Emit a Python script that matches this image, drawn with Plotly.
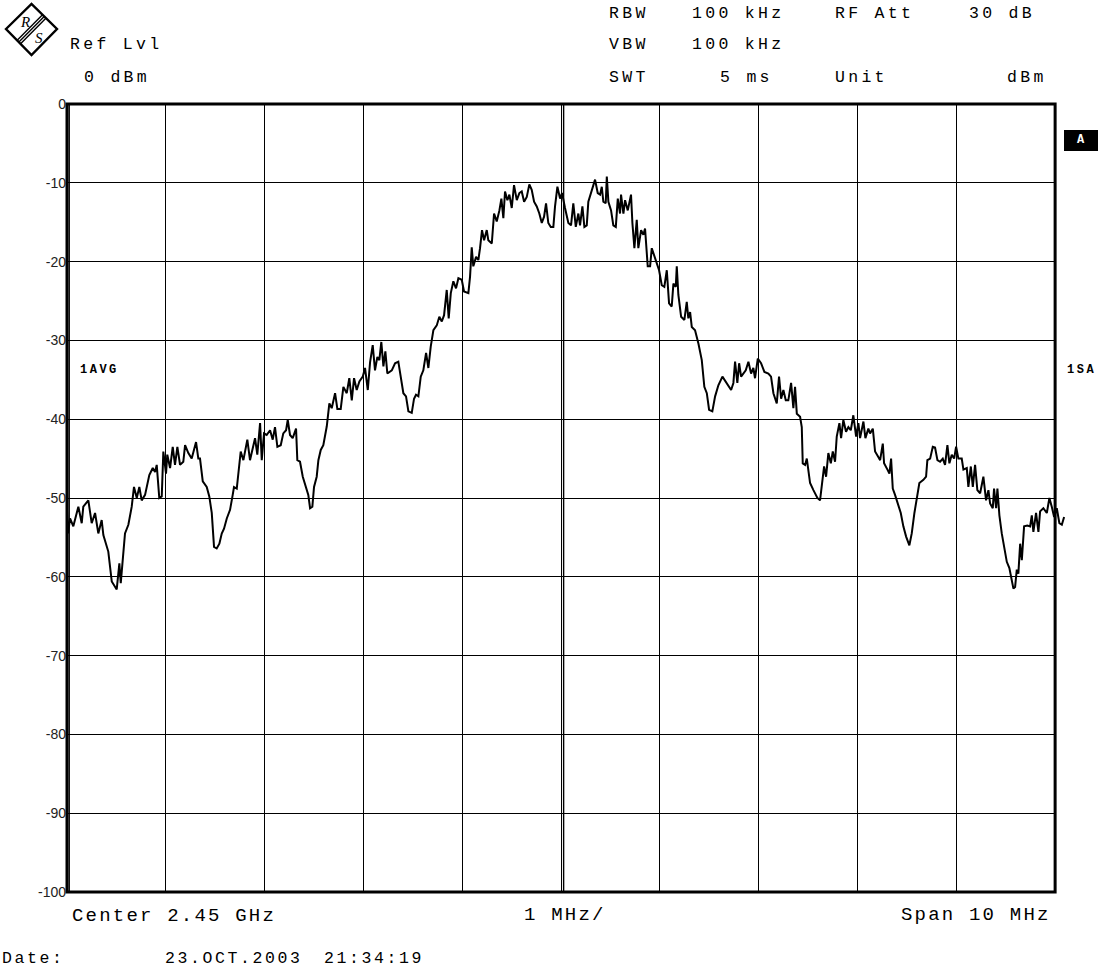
import plotly.graph_objects as go

# ---- measured sweep: frequency offset from centre (MHz) and level (dBm) ----
freq_mhz = [
    -5.000, -4.990, -4.969, -4.936, -4.885, -4.851, -4.835, -4.784, -4.750, -4.716,
    -4.683, -4.649, -4.632, -4.582, -4.547, -4.497, -4.470, -4.456, -4.413, -4.379,
    -4.345, -4.322, -4.294, -4.268, -4.244, -4.210, -4.167, -4.132, -4.109, -4.092,
    -4.066, -4.041, -4.025, -3.998, -3.985, -3.957, -3.930, -3.907, -3.883, -3.856,
    -3.823, -3.805, -3.772, -3.738, -3.694, -3.671, -3.654, -3.626, -3.586, -3.560,
    -3.535, -3.512, -3.485, -3.458, -3.434, -3.411, -3.383, -3.350, -3.323, -3.310,
    -3.282, -3.256, -3.242, -3.215, -3.198, -3.175, -3.148, -3.120, -3.097, -3.074,
    -3.046, -3.029, -3.006, -2.979, -2.945, -2.918, -2.895, -2.871, -2.837, -2.811,
    -2.783, -2.766, -2.743, -2.716, -2.682, -2.669, -2.642, -2.614, -2.581, -2.558,
    -2.540, -2.517, -2.500, -2.473, -2.456, -2.432, -2.406, -2.371, -2.345, -2.321,
    -2.287, -2.264, -2.230, -2.203, -2.169, -2.143, -2.118, -2.095, -2.068, -2.041,
    -2.007, -1.984, -1.956, -1.933, -1.906, -1.883, -1.859, -1.839, -1.819, -1.798,
    -1.778, -1.758, -1.713, -1.680, -1.647, -1.622, -1.596, -1.569, -1.545, -1.511,
    -1.488, -1.468, -1.444, -1.420, -1.394, -1.366, -1.343, -1.319, -1.292, -1.258,
    -1.232, -1.207, -1.184, -1.157, -1.137, -1.116, -1.090, -1.063, -1.039, -1.005,
    -0.982, -0.938, -0.921, -0.904, -0.888, -0.860, -0.837, -0.820, -0.800, -0.779,
    -0.752, -0.736, -0.701, -0.678, -0.651, -0.624, -0.604, -0.584, -0.567, -0.543,
    -0.523, -0.499, -0.476, -0.448, -0.422, -0.398, -0.374, -0.347, -0.321, -0.297,
    -0.273, -0.246, -0.220, -0.195, -0.172, -0.152, -0.129, -0.104, -0.078, -0.061,
    -0.037, -0.010, 0.010, 0.040, 0.074, 0.101, 0.124, 0.149, 0.175, 0.192,
    0.216, 0.236, 0.260, 0.276, 0.311, 0.344, 0.371, 0.395, 0.412, 0.428,
    0.452, 0.463, 0.479, 0.506, 0.529, 0.554, 0.574, 0.597, 0.607, 0.631,
    0.648, 0.675, 0.708, 0.722, 0.742, 0.766, 0.782, 0.810, 0.833, 0.850,
    0.877, 0.901, 0.918, 0.944, 0.969, 0.992, 1.019, 1.045, 1.070, 1.093,
    1.120, 1.137, 1.161, 1.171, 1.187, 1.215, 1.248, 1.272, 1.288, 1.306,
    1.323, 1.356, 1.390, 1.424, 1.450, 1.475, 1.498, 1.531, 1.559, 1.592,
    1.633, 1.677, 1.721, 1.744, 1.761, 1.784, 1.802, 1.822, 1.845, 1.869,
    1.896, 1.923, 1.946, 1.963, 1.991, 2.024, 2.058, 2.098, 2.125, 2.149,
    2.183, 2.206, 2.227, 2.250, 2.274, 2.300, 2.328, 2.351, 2.368, 2.386,
    2.419, 2.436, 2.446, 2.470, 2.487, 2.520, 2.554, 2.594, 2.621, 2.649,
    2.662, 2.682, 2.705, 2.730, 2.750, 2.773, 2.790, 2.817, 2.834, 2.857,
    2.884, 2.908, 2.932, 2.958, 2.986, 3.009, 3.026, 3.060, 3.080, 3.110,
    3.127, 3.155, 3.178, 3.211, 3.229, 3.256, 3.269, 3.303, 3.323, 3.340,
    3.357, 3.380, 3.404, 3.438, 3.464, 3.492, 3.525, 3.549, 3.576, 3.600,
    3.626, 3.667, 3.694, 3.707, 3.735, 3.762, 3.785, 3.809, 3.836, 3.863,
    3.886, 3.910, 3.930, 3.954, 3.978, 3.998, 4.021, 4.055, 4.072, 4.106,
    4.122, 4.147, 4.167, 4.190, 4.213, 4.241, 4.274, 4.301, 4.325, 4.342,
    4.369, 4.382, 4.403, 4.416, 4.436, 4.460, 4.484, 4.511, 4.537, 4.561,
    4.578, 4.595, 4.612, 4.628, 4.646, 4.663, 4.686, 4.719, 4.747, 4.764,
    4.780, 4.807, 4.831, 4.848, 4.881, 4.916, 4.942, 4.966, 4.990, 5.017,
    5.043, 5.068, 5.091,
]

level_dbm = [
    -51.5, -54.5, -52.6, -53.6, -51.1, -53.2, -51.1, -50.3, -53.2, -51.9,
    -54.5, -52.8, -54.7, -56.8, -60.6, -61.6, -58.3, -60.8, -54.5, -53.4,
    -51.1, -48.6, -50.0, -48.6, -50.3, -49.6, -47.1, -46.2, -46.7, -45.8,
    -50.0, -49.8, -44.1, -46.9, -44.5, -46.2, -43.5, -45.8, -43.5, -45.8,
    -45.4, -43.3, -44.3, -45.0, -42.9, -45.0, -45.0, -47.9, -48.6, -49.8,
    -51.9, -56.2, -56.4, -55.8, -54.5, -53.9, -52.6, -51.5, -49.6, -48.6,
    -48.8, -46.2, -44.1, -45.2, -43.9, -42.6, -45.2, -43.5, -42.4, -44.5,
    -40.5, -45.2, -41.8, -42.0, -41.4, -42.6, -41.0, -43.5, -43.3, -41.8,
    -41.4, -40.1, -42.0, -42.4, -41.2, -45.2, -45.4, -47.3, -48.8, -49.6,
    -51.3, -51.1, -48.6, -47.3, -45.2, -43.9, -43.3, -40.9, -38.0, -38.6,
    -36.7, -38.7, -38.7, -35.9, -36.7, -34.8, -37.6, -34.8, -36.3, -35.2,
    -34.6, -33.5, -36.3, -32.8, -30.6, -33.8, -32.1, -32.5, -30.2, -33.3,
    -31.4, -34.2, -33.8, -32.9, -32.7, -35.0, -36.7, -37.1, -39.0, -39.2,
    -37.4, -36.9, -37.1, -34.6, -33.8, -31.6, -33.5, -30.8, -28.7, -28.1,
    -27.0, -27.6, -26.8, -23.6, -27.2, -24.0, -22.5, -23.4, -22.1, -22.3,
    -23.8, -24.0, -21.9, -18.2, -20.6, -19.4, -19.8, -18.3, -16.0, -17.3,
    -16.0, -17.3, -17.7, -13.9, -14.9, -13.5, -12.0, -14.5, -11.1, -12.2,
    -11.5, -13.2, -10.3, -12.2, -11.3, -11.1, -12.4, -11.8, -10.2, -10.9,
    -12.4, -13.0, -13.9, -15.1, -14.3, -12.6, -15.1, -15.6, -15.6, -13.0,
    -10.5, -12.0, -11.3, -13.2, -15.1, -15.4, -12.6, -15.6, -13.9, -15.4,
    -13.0, -15.6, -15.4, -12.4, -11.1, -9.6, -11.3, -11.5, -10.5, -12.4,
    -12.6, -9.2, -12.4, -13.5, -15.4, -15.6, -12.0, -13.9, -11.5, -13.9,
    -12.2, -13.5, -11.5, -15.1, -18.3, -14.7, -18.3, -16.0, -16.6, -15.8,
    -20.6, -20.6, -18.3, -19.4, -20.2, -21.1, -23.0, -23.2, -21.1, -25.3,
    -25.7, -22.8, -23.2, -20.6, -24.2, -27.0, -27.4, -25.1, -27.2, -26.4,
    -28.3, -28.7, -30.4, -32.5, -35.9, -36.7, -38.8, -39.0, -37.1, -35.7,
    -34.6, -35.4, -36.3, -35.4, -32.7, -35.4, -32.9, -34.6, -34.2, -33.8,
    -32.7, -34.2, -33.5, -34.8, -32.3, -32.9, -34.0, -34.2, -34.6, -36.7,
    -38.0, -34.6, -37.4, -36.3, -37.6, -37.6, -35.4, -38.6, -35.9, -39.3,
    -39.7, -41.0, -45.6, -45.8, -45.0, -48.1, -49.0, -50.0, -50.3, -47.7,
    -46.0, -47.3, -44.3, -45.6, -44.1, -45.4, -42.2, -40.5, -42.4, -40.1,
    -41.6, -41.0, -41.4, -39.5, -42.2, -40.5, -42.4, -40.3, -42.4, -41.2,
    -41.8, -41.2, -44.1, -44.8, -45.2, -43.1, -45.6, -46.4, -46.9, -45.0,
    -48.8, -49.6, -50.7, -51.9, -53.6, -54.9, -56.0, -54.5, -51.9, -49.8,
    -48.1, -47.7, -47.3, -45.2, -45.0, -43.5, -43.6, -45.2, -45.4, -45.0,
    -45.8, -43.3, -45.6, -44.5, -45.0, -43.5, -45.0, -45.0, -46.4, -46.2,
    -48.6, -46.0, -48.6, -45.8, -49.0, -49.4, -47.3, -50.3, -49.0, -50.7,
    -51.3, -48.8, -51.3, -48.8, -52.2, -54.5, -56.2, -58.1, -58.9, -60.4,
    -61.5, -61.3, -59.1, -59.6, -55.8, -57.9, -53.6, -53.5, -53.6, -52.2,
    -54.3, -51.9, -54.3, -51.7, -51.3, -51.9, -50.0, -51.1, -52.4, -51.3,
    -53.2, -53.4, -52.4,
]

# ---- axes ----
level_ticks = [0, -10, -20, -30, -40, -50, -60, -70, -80, -90, -100]
level_tick_text = ["0", "-10", "-20", "-30", "-40", "-50", "-60", "-70", "-80", "-90", "-100"]
span_left, span_right = -5.0, 5.0      # graticule: 10 divisions of 1 MHz
sweep_right = 5.1                      # the sweep runs slightly past the last division

# ---- header / footer texts ----
header_left = [("Ref Lvl", 68, 45), ("0 dBm", 82, 77)]
header_right = [
    ("RBW", 607, 13), ("100 kHz", 690, 13), ("RF Att", 833, 13), ("30 dB", 967, 13),
    ("VBW", 607, 45), ("100 kHz", 690, 45),
    ("SWT", 607, 77), ("5 ms", 718, 77), ("Unit", 833, 77), ("dBm", 1005, 77),
]
footer = [("Center 2.45 GHz", 70, 916, "left"), ("1 MHz/", 522, 915, "left"),
          ("Span 10 MHz", 1053, 915, "right")]
date_line = [("Date:", 0, 958), ("23.OCT.2003", 163, 958), ("21:34:19", 322, 958)]

# ---- page geometry ----
W, H = 1107, 969
M_L, M_T, M_R, M_B = 67, 104, 42, 77
PW = W - M_L - M_R
PH = H - M_T - M_B
MONO = "Liberation Mono, Courier New, monospace"


def pp(px, py):
    """page pixel -> paper coordinates"""
    return (px - M_L) / PW, (H - M_B - py) / PH


def spaced(s, gap):
    return f'<span style="letter-spacing:{gap}px">{s}</span>'


fig = go.Figure()
fig.add_trace(go.Scatter(
    x=freq_mhz, y=level_dbm, xaxis="x2", yaxis="y2", mode="lines",
    line=dict(color="black", width=2), hoverinfo="skip", showlegend=False,
))

grid_frac = (span_right - span_left) / (sweep_right - span_left)

annotations = []


def label(text, px, py, size, anchor="left", bold=False, color="black", gap=0.0, family=MONO):
    x, y = pp(px, py)
    t = f"<b>{text}</b>" if bold else text
    if gap:
        t = spaced(t, gap)
    annotations.append(dict(
        x=x, y=y, xref="paper", yref="paper", text=t, showarrow=False,
        xanchor=anchor, yanchor="middle", align=anchor,
        font=dict(family=family, size=size, color=color),
    ))


for t, px, py in header_left + header_right:
    label(t, px, py, 16.5, gap=3.3)
for t, px, py, anc in footer:
    label(t, px, py, 19, anchor=anc, gap=2.2)
for t, px, py in date_line:
    label(t, px, py, 16.5, gap=2.6)

label("1AVG", 78, 370, 12, bold=True, gap=2.5)
label("1SA", 1065, 370, 12, bold=True, gap=2.5)
label("A", 1081, 140, 12, anchor="center", bold=True, color="white")

# logo letters
label("<i>R</i>", 25, 22, 15, anchor="center", family="Liberation Serif")
label("<i>S</i>", 39, 38, 15, anchor="center", family="Liberation Serif")

shapes = []
# graticule frame
shapes.append(dict(type="rect", xref="x domain", yref="y domain", x0=0, x1=1, y0=0, y1=1,
                   line=dict(color="black", width=3), layer="above"))
shapes.append(dict(type="line", xref="x", yref="y domain", x0=-4.978, x1=-4.978, y0=0, y1=1,
                   line=dict(color="black", width=1.5), layer="above"))
# second stroke of the double centre line (the first is the 0 MHz grid line)
shapes.append(dict(type="line", xref="x", yref="y domain", x0=0.026, x1=0.026, y0=0, y1=1,
                   line=dict(color="black", width=1.4), layer="above"))

# trace marker box "A"
bx0, by0 = pp(1064, 151)
bx1, by1 = pp(1098, 130)
shapes.append(dict(type="rect", xref="paper", yref="paper", x0=bx0, x1=bx1, y0=by0, y1=by1,
                   fillcolor="black", line=dict(width=0), layer="below"))

# logo diamond
dia = [pp(6, 29), pp(31.5, 4), pp(57, 29), pp(31.5, 55)]
path = "M " + " L ".join(f"{x},{y}" for x, y in dia) + " Z"
shapes.append(dict(type="path", xref="paper", yref="paper", path=path,
                   line=dict(color="black", width=2.4), fillcolor="white", layer="below"))
for off in (-2.4, 0.0, 2.4):
    ax, ay = pp(44.2 + off * 0.7, 16.5 + off * 0.7)
    bx, by = pp(18.9 + off * 0.7, 42.0 + off * 0.7)
    shapes.append(dict(type="line", xref="paper", yref="paper", x0=ax, y0=ay, x1=bx, y1=by,
                       line=dict(color="black", width=1.4), layer="above"))

fig.update_layout(
    width=W, height=H,
    margin=dict(l=M_L, r=M_R, t=M_T, b=M_B, pad=0),
    paper_bgcolor="white", plot_bgcolor="rgba(0,0,0,0)",
    showlegend=False,
    xaxis=dict(domain=[0, grid_frac], range=[span_left, span_right], anchor="y",
               showgrid=True, gridcolor="black", gridwidth=1.3, tick0=span_left, dtick=1,
               showticklabels=False, ticks="", zeroline=False, showline=False, fixedrange=True),
    yaxis=dict(domain=[0, 1], range=[-100, 0], anchor="x",
               showgrid=True, gridcolor="black", gridwidth=1.3,
               tickmode="array", tickvals=level_ticks, ticktext=level_tick_text,
               tickfont=dict(family="Liberation Sans, Arial, sans-serif", size=14, color="#222"),
               ticks="", zeroline=False, showline=False, fixedrange=True),
    xaxis2=dict(domain=[0, 1], range=[span_left, sweep_right], anchor="y2", visible=False,
                fixedrange=True),
    yaxis2=dict(domain=[0, 1], range=[-100, 0], anchor="x2", visible=False, fixedrange=True),
    annotations=annotations,
    shapes=shapes,
)

fig.write_html("out.html")
